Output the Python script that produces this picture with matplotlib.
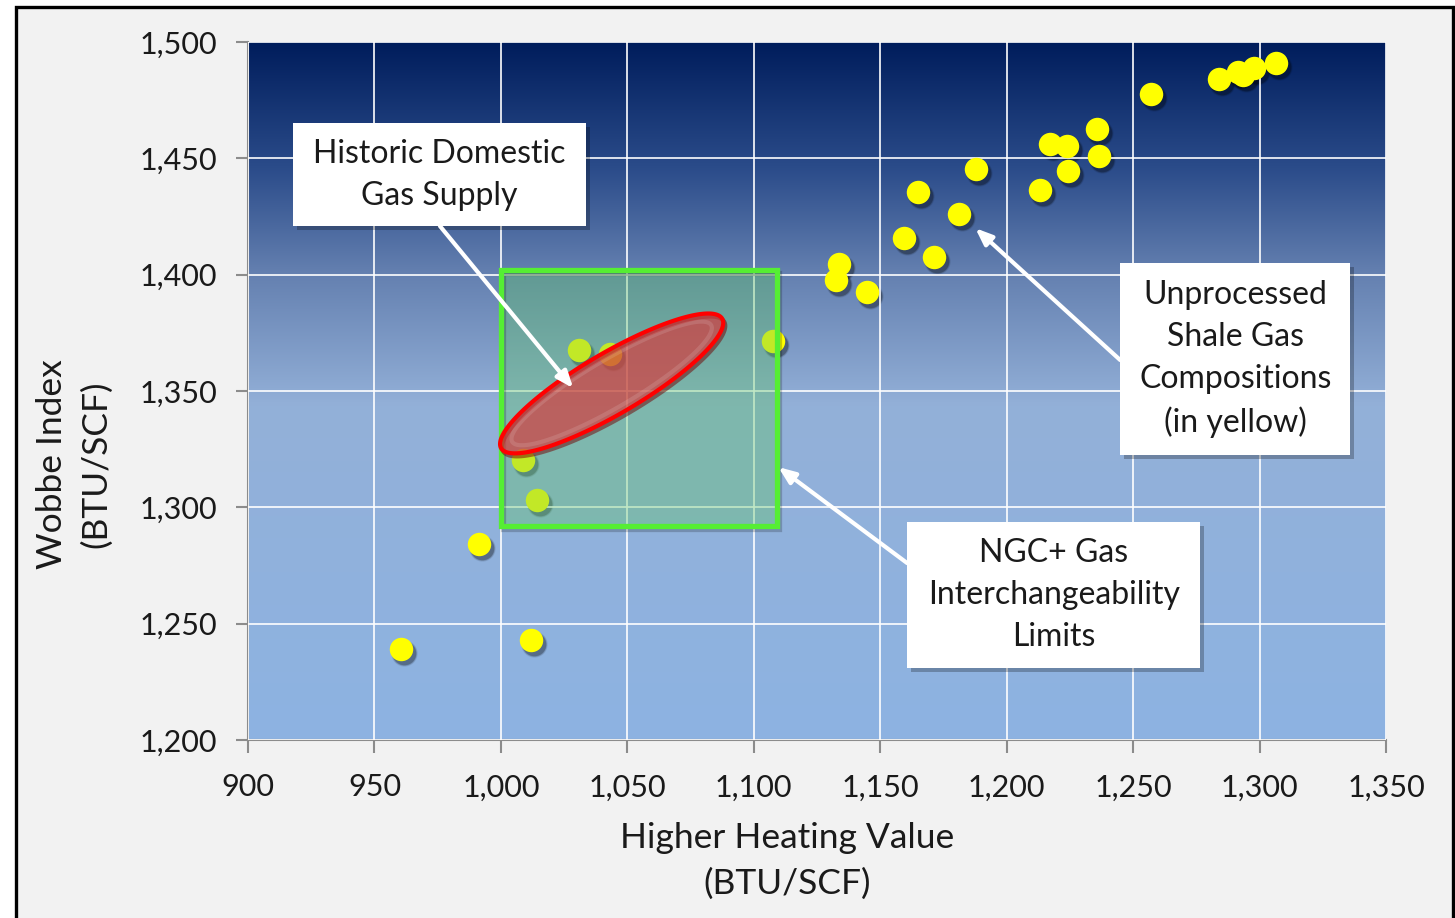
import numpy as np
import matplotlib
matplotlib.use("Agg")
import matplotlib.pyplot as plt
import matplotlib.transforms as mtransforms
from matplotlib.patches import Rectangle, Polygon
from matplotlib.colors import LinearSegmentedColormap
from matplotlib.ticker import FuncFormatter

plt.rcParams['font.family'] = ['Lato', 'DejaVu Sans']

# Unprocessed shale gas compositions (BTU/SCF)
hhv = [1306.6, 1298.0, 1293.6, 1291.6, 1284.0, 1257.2, 1235.8, 1217.2, 1224.0,
       1236.6, 1224.4, 1213.3, 1188.0, 1165.0, 1181.3, 1159.5, 1171.4, 1133.8,
       1132.6, 1144.9, 1107.7, 1031.0, 1043.2, 1008.8, 1014.3, 991.4, 1012.0,
       960.5]
wobbe = [1491.0, 1489.0, 1485.8, 1487.0, 1484.0, 1477.6, 1462.6, 1456.1, 1455.3,
         1451.0, 1444.5, 1436.4, 1445.4, 1435.5, 1426.0, 1415.7, 1407.6, 1404.6,
         1397.7, 1392.5, 1371.5, 1367.6, 1366.0, 1320.3, 1303.0, 1284.2, 1243.0,
         1239.0]

# NGC+ interchangeability limits (HHV range, Wobbe range)
ngc_hhv = [1000, 1109]
ngc_wobbe = [1292, 1402]

# Historic domestic supply region: major-axis end points and half width (px)
hist_ends_hhv = [1000.1, 1087.5]
hist_ends_wobbe = [1325.4, 1381.1]
hist_half_width_px = 30.5

x_ticks = [900, 950, 1000, 1050, 1100, 1150, 1200, 1250, 1300, 1350]
y_ticks = [1200, 1250, 1300, 1350, 1400, 1450, 1500]

W, H, DPI = 1455, 918, 100
fig = plt.figure(figsize=(W / DPI, H / DPI), dpi=DPI, facecolor='white')

# light grey panel with black frame
fig.patches.append(Rectangle((16 / W, -0.02), (1453 - 16) / W, 1.02 - 7 / H,
                             transform=fig.transFigure, facecolor='#f2f2f2',
                             edgecolor='black', linewidth=2.4, zorder=-10))

ax = fig.add_axes([248 / W, 1 - 740 / H, (1386 - 248) / W, (740 - 42) / H])
ax.set_xlim(x_ticks[0], x_ticks[-1])
ax.set_ylim(y_ticks[0], y_ticks[-1])
ax.set_facecolor('none')

# vertical gradient background: navy at top to light blue
grad = LinearSegmentedColormap.from_list(
    'bg', [(0.0, '#001d5c'), (0.18, '#2b4c8a'), (0.33, '#6480b0'),
           (0.52, '#93b0d8'), (1.0, '#8db3e2')])
g = np.linspace(1, 0, 256).reshape(-1, 1)
ax.imshow(g, cmap=grad, aspect='auto', extent=[900, 1350, 1200, 1500],
          origin='lower', zorder=0, vmin=0, vmax=1, interpolation='bilinear')

ax.set_xticks(x_ticks)
ax.set_yticks(y_ticks)
fmt = FuncFormatter(lambda v, p: f"{int(v):,}")
ax.xaxis.set_major_formatter(fmt)
ax.yaxis.set_major_formatter(fmt)
ax.grid(True, color='white', linewidth=1.4, alpha=0.85)
ax.set_axisbelow(False)
for s in ['top', 'right']:
    ax.spines[s].set_visible(False)
for s in ['left', 'bottom']:
    ax.spines[s].set_color('#8c8c8c')
    ax.spines[s].set_linewidth(1.5)
ax.tick_params(axis='both', length=9, width=1.5, color='#8c8c8c',
               labelsize=22, labelcolor='#1a1a1a')
ax.tick_params(axis='y', pad=13)
ax.tick_params(axis='x', pad=15)
for t in ax.get_xgridlines() + ax.get_ygridlines():
    t.set_zorder(0.5)

ax.set_xlabel('Higher Heating Value\n(BTU/SCF)', fontsize=25.5, color='#1a1a1a',
              linespacing=1.5)
ax.xaxis.set_label_coords((787 - 248) / 1138, -(822 - 740) / 698)
ax.set_ylabel('Wobbe Index\n(BTU/SCF)', fontsize=25.5, color='#1a1a1a',
              linespacing=1.45)
ax.yaxis.set_label_coords(-(248 - 112) / 1138, (740 - 464) / 698)

# point shadows, then points
shadow_tr = mtransforms.offset_copy(ax.transData, fig=fig, x=3, y=-4, units='dots')
for k, a in [(1.25, 0.10), (1.1, 0.15), (1.0, 0.2)]:
    ax.scatter(hhv, wobbe, s=285 * k, color='black', alpha=a, linewidths=0,
               transform=shadow_tr, zorder=2)
ax.scatter(hhv, wobbe, s=285, color='#ffff00', linewidths=0, zorder=3)

# NGC+ box
ax.add_patch(Rectangle((ngc_hhv[0], ngc_wobbe[0]), ngc_hhv[1] - ngc_hhv[0],
                       ngc_wobbe[1] - ngc_wobbe[0], facecolor='#5fc468',
                       alpha=0.38, edgecolor='none', zorder=4))
box_sh = mtransforms.offset_copy(ax.transData, fig=fig, x=2, y=-3, units='dots')
ax.add_patch(Rectangle((ngc_hhv[0], ngc_wobbe[0]), ngc_hhv[1] - ngc_hhv[0],
                       ngc_wobbe[1] - ngc_wobbe[0], facecolor='none',
                       edgecolor='#000000', alpha=0.2, linewidth=3.8,
                       transform=box_sh, zorder=4))
ax.add_patch(Rectangle((ngc_hhv[0], ngc_wobbe[0]), ngc_hhv[1] - ngc_hhv[0],
                       ngc_wobbe[1] - ngc_wobbe[0], facecolor='none',
                       edgecolor='#55ee33', linewidth=3.8, zorder=5))

# historic supply ellipse, built in display space so it keeps its shape
p = ax.transData.transform(np.column_stack([hist_ends_hhv, hist_ends_wobbe]))
c = p.mean(axis=0)
u = (p[1] - p[0]) / 2
n = np.array([-u[1], u[0]]) / np.hypot(*u) * hist_half_width_px
t = np.linspace(0, 2 * np.pi, 240)
ell_disp = c + np.outer(np.cos(t), u) + np.outer(np.sin(t), n)
ell_data = ax.transData.inverted().transform(ell_disp)
ell_sh = mtransforms.offset_copy(ax.transData, fig=fig, x=2, y=-3, units='dots')
ax.add_patch(Polygon(ell_data, closed=True, facecolor='none',
                     edgecolor='#700000', alpha=0.5, linewidth=3.0,
                     transform=ell_sh, zorder=6))
ax.add_patch(Polygon(ell_data, closed=True, facecolor='#d8383a', alpha=0.68,
                     edgecolor='none', zorder=6))
# soft inner highlight along the upper-left rim
hl_disp = c + np.outer(np.cos(t), u * 0.9) + np.outer(np.sin(t), n * 0.78)
hl_data = ax.transData.inverted().transform(hl_disp)
ax.add_patch(Polygon(hl_data, closed=True, facecolor='none',
                     edgecolor='white', alpha=0.12, linewidth=3.0, zorder=6.5))
ax.add_patch(Polygon(ell_data, closed=True, facecolor='none',
                     edgecolor='#ff0000', linewidth=3.0, zorder=7))


def callout(x0, x1, y0, y1, text, start, tip):
    sh = mtransforms.offset_copy(ax.transData, fig=fig, x=4, y=-4, units='dots')
    ax.add_patch(Rectangle((x0, y0), x1 - x0, y1 - y0, facecolor='black',
                           alpha=0.25, edgecolor='none', transform=sh, zorder=8))
    ax.annotate('', xy=tip, xytext=start,
                arrowprops=dict(arrowstyle='-|>,head_length=1.0,head_width=0.4',
                                color='white', lw=3, shrinkA=0, shrinkB=0),
                zorder=8.5)
    ax.add_patch(Rectangle((x0, y0), x1 - x0, y1 - y0, facecolor='white',
                           edgecolor='none', zorder=9))
    ax.text((x0 + x1) / 2, (y0 + y1) / 2, text, ha='center', va='center',
            fontsize=23, color='#1a1a1a', linespacing=1.5, zorder=10)


callout(917.8, 1033.7, 1420.9, 1465.2, 'Historic Domestic\nGas Supply',
        (975.9, 1420.9), (1028.6, 1351.2))
callout(1244.9, 1335.9, 1322.4, 1405.0,
        'Unprocessed\nShale Gas\nCompositions\n(in yellow)',
        (1244.9, 1363.3), (1187.6, 1420.0))
callout(1160.7, 1276.6, 1230.9, 1293.6, 'NGC+ Gas\nInterchangeability\nLimits',
        (1160.7, 1276.0), (1109.7, 1317.3))

fig.savefig('out.png', dpi=DPI, facecolor=fig.get_facecolor())
